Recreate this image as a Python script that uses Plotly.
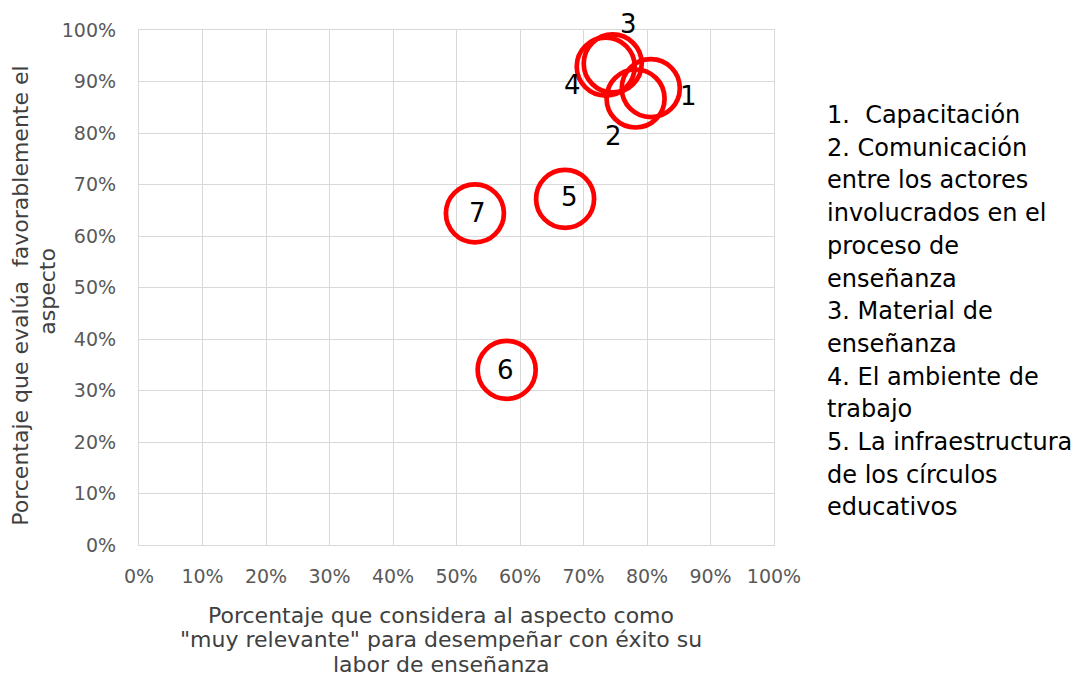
import plotly.graph_objects as go

# aspect number, % "muy relevante" (x), % evaluacion favorable (y)
aspectos = ["1", "2", "3", "4", "5", "6", "7"]
relevancia = [0.806, 0.782, 0.746, 0.735, 0.671, 0.579, 0.529]
favorable = [0.887, 0.867, 0.935, 0.929, 0.672, 0.340, 0.644]

leyenda = [
    "1.  Capacitación",
    "2. Comunicación",
    "entre los actores",
    "involucrados en el",
    "proceso de",
    "enseñanza",
    "3. Material de",
    "enseñanza",
    "4. El ambiente de",
    "trabajo",
    "5. La infraestructura",
    "de los círculos",
    "educativos",
]

titulo_x = ['Porcentaje que considera al aspecto como',
            '"muy relevante" para desempeñar con éxito su',
            'labor de enseñanza']
titulo_y = ["Porcentaje que evalúa  favorablemente el", "aspecto"]

FONT = "DejaVu Sans"

# label offsets (px) the way Excel placed the data labels
shifts = {"1": (38, -8), "2": (-22, -37), "3": (16, 39), "4": (-33, -18),
          "5": (4, 2), "6": (-1, 0), "7": (3, 0)}

fig = go.Figure()
fig.add_trace(go.Scatter(
    x=relevancia, y=favorable, mode="markers",
    marker=dict(size=58, color="rgba(0,0,0,0)",
                line=dict(color="#ff0000", width=4.7)),
    cliponaxis=False, showlegend=False, hoverinfo="skip",
))

for a, xv, yv in zip(aspectos, relevancia, favorable):
    dx, dy = shifts[a]
    fig.add_annotation(x=xv, y=yv, xref="x", yref="y", text=a, showarrow=False,
                       xshift=dx, yshift=dy,
                       font=dict(family=FONT, size=26, color="#000000"))

# text block on the right, one line at a time to keep Excel's line spacing
for i, linea in enumerate(leyenda):
    fig.add_annotation(
        x=1.08, y=1.0, xref="paper", yref="paper", xanchor="left", yanchor="middle",
        yshift=-85 - 32.7 * i, align="left", showarrow=False, text=linea,
        font=dict(family=FONT, size=24, color="#000000"),
    )

# axis titles, line by line (Excel doesn't centre them on the plot)
for i, linea in enumerate(titulo_x):
    fig.add_annotation(
        x=0.476, y=0.0, xref="paper", yref="paper", xanchor="center", yanchor="middle",
        yshift=-70 - 24.5 * i, showarrow=False, text=linea,
        font=dict(family=FONT, size=22, color="#404040"),
    )
for i, linea in enumerate(titulo_y):
    fig.add_annotation(
        x=0.0, y=0.484, xref="paper", yref="paper", xanchor="center", yanchor="middle",
        xshift=-118 + 27 * i, yshift=4 * i, showarrow=False, text=linea, textangle=-90,
        font=dict(family=FONT, size=22, color="#404040"),
    )

axis_common = dict(
    range=[0, 1], dtick=0.1, tickformat=".0%",
    gridcolor="#d9d9d9", gridwidth=1.3,
    showline=True, linecolor="#d9d9d9", linewidth=1.3, mirror=True,
    zeroline=False, ticks="outside", tickcolor="rgba(0,0,0,0)",
    tickfont=dict(family=FONT, size=19, color="#595959"),
)

fig.update_xaxes(**axis_common, ticklen=14)
fig.update_yaxes(**axis_common, ticklen=18)

fig.update_layout(
    width=1083, height=677,
    margin=dict(l=131, r=317, t=22, b=140, autoexpand=False),
    paper_bgcolor="white", plot_bgcolor="white",
)

fig.write_html("out.html")
